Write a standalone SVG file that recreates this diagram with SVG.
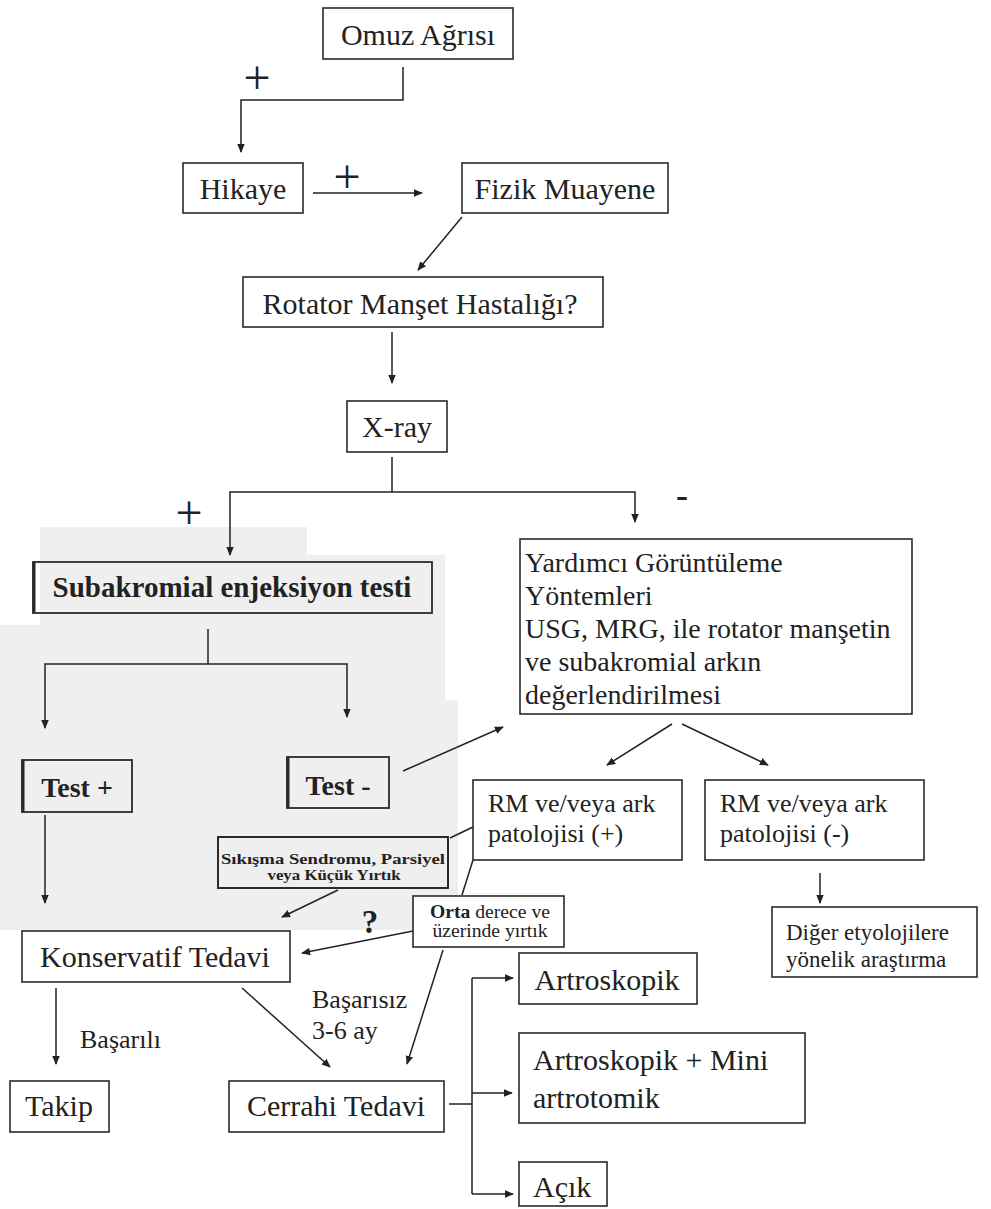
<svg xmlns="http://www.w3.org/2000/svg" width="991" height="1209" viewBox="0 0 991 1209">
<style>
.box{fill:#fff;stroke:#2a2a2a;stroke-width:1.6}
.gbox{fill:none;stroke:#2a2a2a;stroke-width:1.8}
.t{font-family:"Liberation Serif",serif;fill:#222;font-size:30px}
.m{text-anchor:middle}
.b{font-weight:bold}
.c{fill:none;stroke:#222;stroke-width:1.5}
.a{marker-end:url(#ah)}
</style>
<defs>
<marker id="ah" viewBox="0 0 10 10" refX="9" refY="5" markerWidth="9" markerHeight="9" markerUnits="userSpaceOnUse" orient="auto">
<path d="M0,0.8 L10,5 L0,9.2 z" fill="#222"/>
</marker>
</defs>
<rect width="991" height="1209" fill="#fff"/>
<path d="M40,527 H307 V555 H445 V700 H458 V900 H445 V930 H0 V625 H40 Z" fill="#efefef"/>

<g id="connectors">
<polyline class="c a" points="403,67 403,100 241,100 241,152"/>
<line class="c a" x1="313" y1="193" x2="422" y2="193"/>
<line class="c a" x1="462" y1="217" x2="418" y2="270"/>
<line class="c a" x1="392" y1="332" x2="392" y2="383"/>
<line class="c" x1="392" y1="457" x2="392" y2="492"/>
<polyline class="c a" points="392,492 230,492 230,555"/>
<polyline class="c a" points="392,492 635,492 635,522"/>
<line class="c" x1="208" y1="629" x2="208" y2="664"/>
<polyline class="c a" points="208,664 45,664 45,728"/>
<polyline class="c a" points="208,664 347,664 347,717"/>
<line class="c a" x1="45" y1="815" x2="45" y2="903"/>
<line class="c a" x1="403" y1="771" x2="503" y2="727"/>
<line class="c a" x1="672" y1="724" x2="607" y2="765"/>
<line class="c a" x1="682" y1="724" x2="768" y2="765"/>
<line class="c" x1="473" y1="827" x2="450" y2="838"/>
<line class="c" x1="473" y1="860" x2="462" y2="895"/>
<line class="c a" x1="338" y1="890" x2="282" y2="917"/>
<line class="c a" x1="413" y1="931" x2="302" y2="953"/>
<line class="c a" x1="443" y1="950" x2="407" y2="1064"/>
<line class="c a" x1="820" y1="873" x2="820" y2="903"/>
<line class="c a" x1="56" y1="988" x2="56" y2="1064"/>
<line class="c a" x1="242" y1="988" x2="330" y2="1067"/>
<line class="c" x1="449" y1="1104" x2="472" y2="1104"/>
<line class="c" x1="472" y1="978" x2="472" y2="1194"/>
<line class="c a" x1="472" y1="978" x2="513" y2="978"/>
<line class="c a" x1="472" y1="1093" x2="512" y2="1093"/>
<line class="c a" x1="472" y1="1194" x2="513" y2="1194"/>
</g>

<g id="labels">
<text class="t m" x="257" y="94" style="font-size:48px">+</text>
<text class="t m" x="347" y="193" style="font-size:48px">+</text>
<text class="t m" x="189" y="529" style="font-size:48px">+</text>
<text class="t m b" x="682" y="507" style="font-size:36px">-</text>
<text class="t m b" x="370" y="933" style="font-size:33px">?</text>
<text class="t" x="80" y="1048" style="font-size:26px">Başarılı</text>
<text class="t" x="312" y="1008" style="font-size:26px">Başarısız</text>
<text class="t" x="312" y="1039" style="font-size:26px">3-6 ay</text>
</g>

<g id="omuz"><rect class="box" x="323" y="8" width="190" height="51"/><text class="t m" x="418" y="45">Omuz Ağrısı</text></g>
<g id="hikaye"><rect class="box" x="183" y="163" width="120" height="50"/><text class="t m" x="243" y="199">Hikaye</text></g>
<g id="fizik"><rect class="box" x="462" y="163" width="206" height="50"/><text class="t m" x="565" y="199">Fizik Muayene</text></g>
<g id="rotator"><rect class="box" x="243" y="277" width="360" height="50"/><text class="t m" x="420" y="314">Rotator Manşet Hastalığı?</text></g>
<g id="xray"><rect class="box" x="347" y="401" width="100" height="51"/><text class="t m" x="397" y="437">X-ray</text></g>
<g id="subakromial"><rect class="gbox" x="33" y="562" width="399" height="51"/><line x1="34" y1="562" x2="34" y2="613" stroke="#2a2a2a" stroke-width="3"/><text class="t m b" x="232" y="597" style="font-size:29px">Subakromial enjeksiyon testi</text></g>
<g id="yardimci"><rect class="box" x="520" y="539" width="392" height="175"/>
<text class="t" style="font-size:28px"><tspan x="525" y="572">Yardımcı Görüntüleme</tspan><tspan x="525" y="605">Yöntemleri</tspan><tspan x="525" y="638">USG, MRG, ile rotator manşetin</tspan><tspan x="525" y="671">ve subakromial arkın</tspan><tspan x="525" y="704">değerlendirilmesi</tspan></text></g>
<g id="testplus"><rect class="gbox" x="22" y="760" width="110" height="52"/><line x1="23" y1="760" x2="23" y2="812" stroke="#2a2a2a" stroke-width="3"/><text class="t m b" x="77" y="797" style="font-size:28px">Test +</text></g>
<g id="testminus"><rect class="gbox" x="287" y="757" width="102" height="51"/><line x1="288" y1="757" x2="288" y2="808" stroke="#2a2a2a" stroke-width="3"/><text class="t m b" x="338" y="795" style="font-size:28px">Test -</text></g>
<g id="rmplus"><rect class="box" x="473" y="780" width="209" height="80"/><text class="t" style="font-size:26px"><tspan x="488" y="812">RM ve/veya ark</tspan><tspan x="488" y="842">patolojisi (+)</tspan></text></g>
<g id="rmminus"><rect class="box" x="705" y="780" width="219" height="80"/><text class="t" style="font-size:26px"><tspan x="720" y="812">RM ve/veya ark</tspan><tspan x="720" y="842">patolojisi (-)</tspan></text></g>
<g id="sikisma"><rect class="gbox" x="218" y="837" width="230" height="51" style="stroke-width:2"/>
<text class="t m b" x="333" y="864" style="font-size:15px" textLength="224" lengthAdjust="spacingAndGlyphs">Sıkışma Sendromu, Parsiyel</text>
<text class="t m b" x="334" y="880" style="font-size:15px" textLength="133" lengthAdjust="spacingAndGlyphs">veya Küçük Yırtık</text></g>
<g id="orta"><rect class="box" x="413" y="896" width="151" height="51"/>
<text class="t m" x="490" y="918" style="font-size:18px" textLength="120" lengthAdjust="spacingAndGlyphs"><tspan class="b">Orta</tspan> derece ve</text>
<text class="t m" x="490" y="937" style="font-size:18px" textLength="115" lengthAdjust="spacingAndGlyphs">üzerinde yırtık</text></g>
<g id="diger"><rect class="box" x="772" y="907" width="205" height="70"/><text class="t" style="font-size:23px"><tspan x="786" y="940">Diğer etyolojilere</tspan><tspan x="786" y="967">yönelik araştırma</tspan></text></g>
<g id="konservatif"><rect class="box" x="22" y="931" width="268" height="51"/><text class="t m" x="155" y="967">Konservatif Tedavi</text></g>
<g id="artroskopik"><rect class="box" x="519" y="953" width="178" height="51"/><text class="t m" x="607" y="990">Artroskopik</text></g>
<g id="mini"><rect class="box" x="519" y="1033" width="286" height="90"/><text class="t"><tspan x="533" y="1070">Artroskopik + Mini</tspan><tspan x="533" y="1108">artrotomik</tspan></text></g>
<g id="takip"><rect class="box" x="10" y="1081" width="99" height="51"/><text class="t m" x="59" y="1116">Takip</text></g>
<g id="cerrahi"><rect class="box" x="229" y="1081" width="215" height="51"/><text class="t m" x="336" y="1116">Cerrahi Tedavi</text></g>
<g id="acik"><rect class="box" x="519" y="1162" width="88" height="44"/><text class="t" x="533" y="1197">Açık</text></g>
</svg>
